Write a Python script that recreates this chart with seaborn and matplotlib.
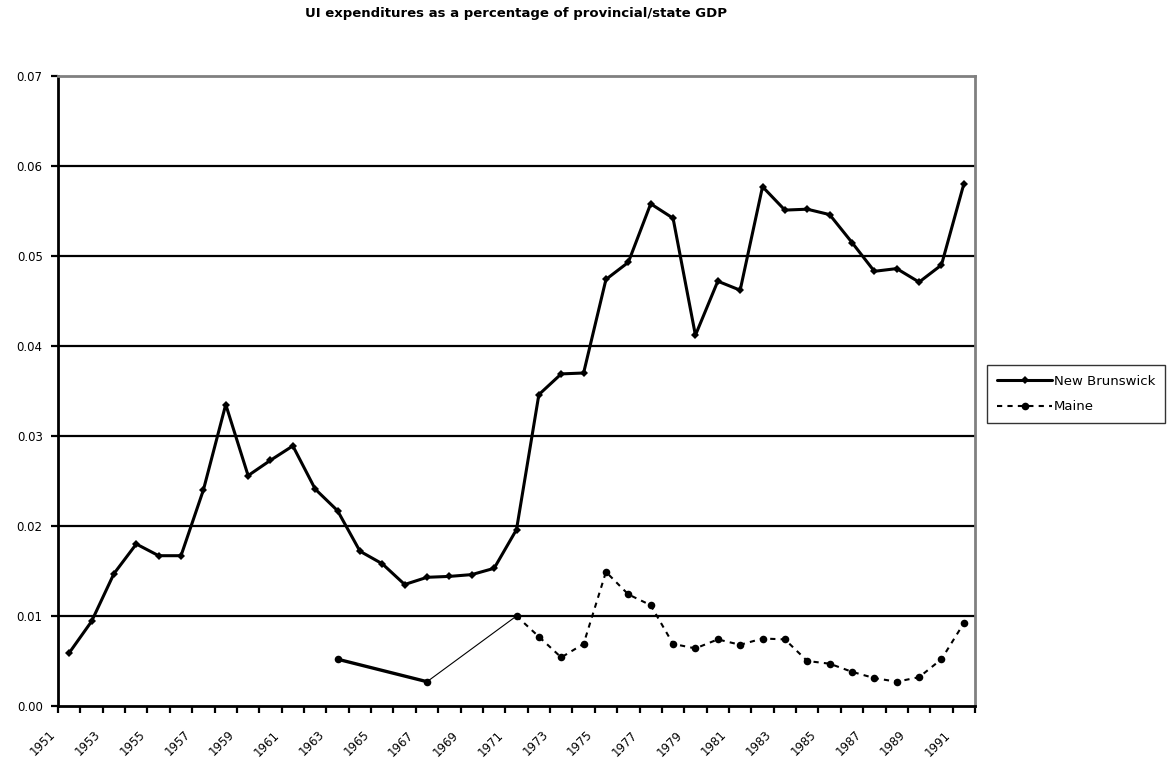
import numpy as np
import pandas as pd
import matplotlib
matplotlib.use("Agg")
import matplotlib.pyplot as plt
import matplotlib.transforms as mtransforms
import seaborn as sns
from matplotlib.lines import Line2D

years = list(range(1951, 1992))
new_brunswick = [0.0059, 0.0094, 0.0147, 0.0180, 0.0167, 0.0167, 0.0240, 0.0335,
                 0.0256, 0.0273, 0.0289, 0.0241, 0.0217, 0.0172, 0.0158, 0.0135,
                 0.0143, 0.0144, 0.0146, 0.0153, 0.0196, 0.0346, 0.0369, 0.0370,
                 0.0474, 0.0493, 0.0558, 0.0542, 0.0412, 0.0472, 0.0462, 0.0577,
                 0.0551, 0.0552, 0.0546, 0.0515, 0.0483, 0.0486, 0.0471, 0.0490,
                 0.0580]
maine = [np.nan] * 12 + [0.0052, np.nan, np.nan, np.nan, 0.0027, np.nan, np.nan, np.nan,
         0.0100, 0.0077, 0.0054, 0.0069, 0.0149, 0.0124, 0.0112, 0.0069,
         0.0064, 0.0074, 0.0068, 0.0075, 0.0074, 0.0050, 0.0047, 0.0038,
         0.0031, 0.0027, 0.0032, 0.0052, 0.0092]
y_ticks = [0.00, 0.01, 0.02, 0.03, 0.04, 0.05, 0.06, 0.07]
x_labels = [str(y) for y in years[::2]]
title = "UI expenditures as a percentage of provincial/state GDP"

df = pd.DataFrame({"year": years, "pos": np.arange(len(years)),
                   "New Brunswick": new_brunswick, "Maine": maine})

sns.set_style("white")
plt.rcParams['font.family'] = ['DejaVu Sans']
plt.rcParams['text.color'] = 'black'
plt.rcParams['xtick.color'] = 'black'
plt.rcParams['ytick.color'] = 'black'
plt.rcParams['axes.labelcolor'] = 'black'

fig = plt.figure(figsize=(11.71, 7.67), dpi=100)
ax = fig.add_axes([58/1171, 1 - 706/767, (975-58)/1171, (706-76)/767])

# gridlines
for v in y_ticks[1:-1]:
    ax.axhline(v, color="black", lw=1.6, zorder=1)

# New Brunswick
sns.lineplot(data=df, x="pos", y="New Brunswick", ax=ax, color="black", lw=2.2,
             marker="D", markersize=4, markeredgewidth=0, zorder=3, legend=False)

# Maine segments
m = df.dropna(subset=["Maine"])
seg1 = m[(m.year >= 1963) & (m.year <= 1967)]
seg2 = m[(m.year >= 1967) & (m.year <= 1971)]
seg3 = m[m.year >= 1971]
sns.lineplot(data=seg1, x="pos", y="Maine", ax=ax, color="black", lw=2.4, zorder=3, legend=False)
sns.lineplot(data=seg2, x="pos", y="Maine", ax=ax, color="black", lw=0.8, zorder=3, legend=False)
sns.lineplot(data=seg3, x="pos", y="Maine", ax=ax, color="black", lw=1.5,
             dashes=False, linestyle=(0, (2.5, 2.5)), zorder=3, legend=False)
sns.scatterplot(data=m, x="pos", y="Maine", ax=ax, color="black", s=30,
                linewidth=0, zorder=4, legend=False)

ax.set_yticks(y_ticks)
ax.set_yticklabels([f"{v:.2f}" for v in y_ticks], fontsize=8.5)
ax.set_xticks(np.arange(len(years) + 1) - 0.5)
ax.set_xticklabels([])
ax.set_xticks(np.arange(0, len(years), 2), minor=True)
ax.set_xticklabels(x_labels, minor=True, rotation=45, ha="right", va="top",
                   rotation_mode="anchor", fontsize=8.5)
ax.set_xlim(-0.5, len(years) - 0.5)
ax.set_ylim(0, 0.07)
ax.tick_params(axis="x", which="minor", length=0, pad=16)
ax.tick_params(axis="both", which="major", direction="out", length=5, width=1.6,
               color="black", left=True, bottom=True)
ax.tick_params(axis="y", pad=6)
ax.set_xlabel("")
ax.set_ylabel("")

shift = mtransforms.ScaledTranslation(-0.20, 0, fig.dpi_scale_trans)
for lbl in ax.get_xticklabels(minor=True):
    lbl.set_transform(lbl.get_transform() + shift)

for side in ["left", "bottom"]:
    ax.spines[side].set_color("black")
    ax.spines[side].set_linewidth(2)
for side in ["top", "right"]:
    ax.spines[side].set_color("#808080")
    ax.spines[side].set_linewidth(2)
    ax.spines[side].set_visible(True)

fig.text(516/1171, 1 - 13/767, title, ha="center", va="center",
         fontsize=9.5, fontweight="bold", color="black")

handles = [Line2D([], [], color="black", lw=2.2, marker="D", markersize=4, markeredgewidth=0),
           Line2D([], [], color="black", lw=1.5, linestyle=(0, (2.5, 2.5)), marker="o",
                  markersize=5.5, markeredgewidth=0)]
leg = fig.legend(handles, ["New Brunswick", "Maine"], loc="upper left",
                 bbox_to_anchor=(987/1171, 1 - 365/767), fontsize=9.5, frameon=True,
                 fancybox=False, shadow=False, handlelength=4.2, handletextpad=0.1,
                 borderpad=0.75, labelspacing=0.95, borderaxespad=0)
leg.get_frame().set_edgecolor("black")
leg.get_frame().set_linewidth(1.0)
for t in leg.get_texts():
    t.set_color("black")

fig.savefig("out.png", dpi=100)
